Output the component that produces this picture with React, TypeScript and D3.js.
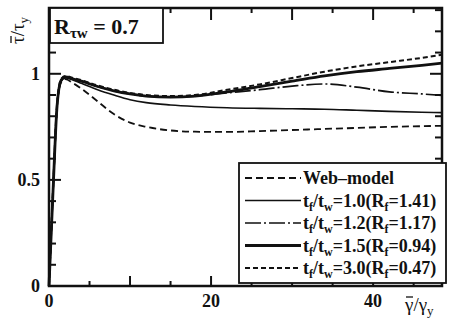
import * as d3 from 'd3'

// strain samples (gamma / gamma_y) shared by every curve
const X = [0, 0.5, 1, 1.5, 2, 3, 4, 6, 8, 10, 12, 15, 18, 22, 26, 30, 34, 38, 42, 46, 48.5]

const WEB = [0, 0.45, 0.85, 0.96, 0.975, 0.955, 0.93, 0.87, 0.81, 0.77, 0.75, 0.733, 0.727, 0.726, 0.73, 0.735, 0.74, 0.745, 0.75, 0.753, 0.755]
const TF10 = [0, 0.45, 0.85, 0.965, 0.98, 0.97, 0.955, 0.925, 0.9, 0.878, 0.864, 0.853, 0.846, 0.84, 0.837, 0.835, 0.833, 0.828, 0.823, 0.819, 0.817]
const TF12 = [0, 0.45, 0.85, 0.97, 0.985, 0.975, 0.965, 0.94, 0.92, 0.905, 0.895, 0.89, 0.895, 0.91, 0.925, 0.942, 0.952, 0.937, 0.915, 0.905, 0.898]
const TF15 = [0, 0.45, 0.85, 0.97, 0.985, 0.975, 0.965, 0.94, 0.92, 0.905, 0.895, 0.89, 0.895, 0.915, 0.94, 0.965, 0.99, 1.01, 1.025, 1.04, 1.05]
const TF30 = [0, 0.46, 0.86, 0.975, 0.99, 0.98, 0.97, 0.945, 0.925, 0.91, 0.9, 0.895, 0.9, 0.925, 0.95, 0.98, 1.01, 1.035, 1.055, 1.075, 1.09]

const X_MAJOR = [0, 10, 20, 30, 40]
const X_MINOR = [5, 15, 25, 35, 45]
const X_LABELS = [0, 20, 40]
const Y_TICKS = [0, 0.1, 0.2, 0.3, 0.4, 0.5, 0.6, 0.7, 0.8, 0.9, 1, 1.1, 1.2, 1.3]
const Y_MAJOR = [0, 0.5, 1]
const Y_LABELS = ['0', '0.5', '1']

type S = { key: string; vals: number[]; width: number; dash: string; ratio: string; rf: string }
const SERIES: S[] = [
  { key: 'web', vals: WEB, width: 1.8, dash: '7,4', ratio: '', rf: '' },
  { key: '1.0', vals: TF10, width: 1.6, dash: '', ratio: '1.0', rf: '1.41' },
  { key: '1.2', vals: TF12, width: 1.7, dash: '16,3,2,3', ratio: '1.2', rf: '1.17' },
  { key: '1.5', vals: TF15, width: 2.8, dash: '', ratio: '1.5', rf: '0.94' },
  { key: '3.0', vals: TF30, width: 2, dash: '5,3', ratio: '3.0', rf: '0.47' },
]

const W = 451
const H = 321
const FONT = '"Liberation Serif", "DejaVu Serif", serif'
const INK = '#111'

export default function App() {
  const x = d3.scaleLinear().domain([0, 48.5]).range([49, 442])
  const y = d3.scaleLinear().domain([0, 1.31]).range([286, 8])
  const line = (vals: number[]) =>
    d3
      .line<number>()
      .x((_, i) => x(X[i]))
      .y((d) => y(d))
      .curve(d3.curveMonotoneX)(vals) || ''

  const lx0 = 239
  const lx1 = 446
  const ly0 = 163
  const ly1 = 283
  const rowY = (i: number) => 178 + i * 22.5

  return (
    <svg width={W} height={H} style={{ position: 'absolute', left: 0, top: 0, background: '#fff' }}>
      {/* curves */}
      <g fill="none" stroke={INK}>
        {SERIES.map((s) => (
          <path key={s.key} d={line(s.vals)} strokeWidth={s.width} strokeDasharray={s.dash || undefined} />
        ))}
      </g>

      {/* frame and inward ticks */}
      <g stroke={INK} strokeWidth={2}>
        {X_MAJOR.map((v) => (
          <g key={'xm' + v}>
            <line x1={x(v)} x2={x(v)} y1={y(0)} y2={y(0) - 10} />
            <line x1={x(v)} x2={x(v)} y1={y(1.31)} y2={y(1.31) + 12} />
          </g>
        ))}
        {X_MINOR.map((v) => (
          <g key={'xn' + v}>
            <line x1={x(v)} x2={x(v)} y1={y(0)} y2={y(0) - 5} />
            <line x1={x(v)} x2={x(v)} y1={y(1.31)} y2={y(1.31) + 5} />
          </g>
        ))}
        {Y_TICKS.map((v) => {
          const len = Y_MAJOR.includes(v) ? 12 : 7
          return (
            <g key={'y' + v}>
              <line x1={x(0)} x2={x(0) + len} y1={y(v)} y2={y(v)} />
              <line x1={x(48.5)} x2={x(48.5) - len} y1={y(v)} y2={y(v)} />
            </g>
          )
        })}
        <rect x={x(0)} y={y(1.31)} width={x(48.5) - x(0)} height={y(0) - y(1.31)} fill="none" strokeWidth={2.5} />
      </g>

      {/* tick labels */}
      <g fontFamily={FONT} fontWeight="bold" fontSize={18} fill={INK}>
        {X_LABELS.map((v) => (
          <text key={'xl' + v} x={x(v)} y={307} textAnchor="middle">
            {v}
          </text>
        ))}
        {Y_MAJOR.map((v, i) => (
          <text key={'yl' + v} x={40} y={y(v) + 6} textAnchor="end">
            {Y_LABELS[i]}
          </text>
        ))}
      </g>

      {/* axis titles, bars drawn over the first symbol */}
      <g>
        <text x={405} y={311} fontFamily={FONT} fontSize={19} fill={INK}>
          γ/γ<tspan fontSize={13} dy={4}>y</tspan>
        </text>
        <line x1={406} x2={413} y1={297} y2={297} stroke={INK} strokeWidth={1.3} />
      </g>
      <g transform="translate(24,44) rotate(-90)">
        <text x={0} y={0} fontFamily={FONT} fontSize={19} fill={INK}>
          τ/τ<tspan fontSize={13} dy={4}>y</tspan>
        </text>
        <line x1={1} x2={8} y1={-13} y2={-13} stroke={INK} strokeWidth={1.3} />
      </g>

      {/* parameter box */}
      <rect x={50} y={8} width={113} height={35} fill="#fff" stroke={INK} strokeWidth={1.8} />
      <text x={54} y={34} fontFamily={FONT} fontWeight="bold" fontSize={22} fill={INK}>
        R<tspan fontSize={15} dy={4}>τw</tspan>
        <tspan dy={-4}> = 0.7</tspan>
      </text>

      {/* legend */}
      <rect x={lx0} y={ly0} width={lx1 - lx0} height={ly1 - ly0} fill="#fff" stroke={INK} strokeWidth={1.8} />
      {SERIES.map((s, i) => (
        <g key={'lg' + s.key}>
          <line
            x1={245}
            x2={301}
            y1={rowY(i)}
            y2={rowY(i)}
            stroke={INK}
            strokeWidth={s.width}
            strokeDasharray={s.dash || undefined}
          />
          <text x={303} y={rowY(i) + 6} fontFamily={FONT} fontWeight="bold" fontSize={18} fill={INK}>
            {s.key === 'web' ? (
              'Web–model'
            ) : (
              <>
                t<tspan fontSize={12} dy={4}>f</tspan>
                <tspan dy={-4}>/t</tspan>
                <tspan fontSize={12} dy={4}>w</tspan>
                <tspan dy={-4}>={s.ratio}(R</tspan>
                <tspan fontSize={12} dy={4}>f</tspan>
                <tspan dy={-4}>={s.rf})</tspan>
              </>
            )}
          </text>
        </g>
      ))}
    </svg>
  )
}
